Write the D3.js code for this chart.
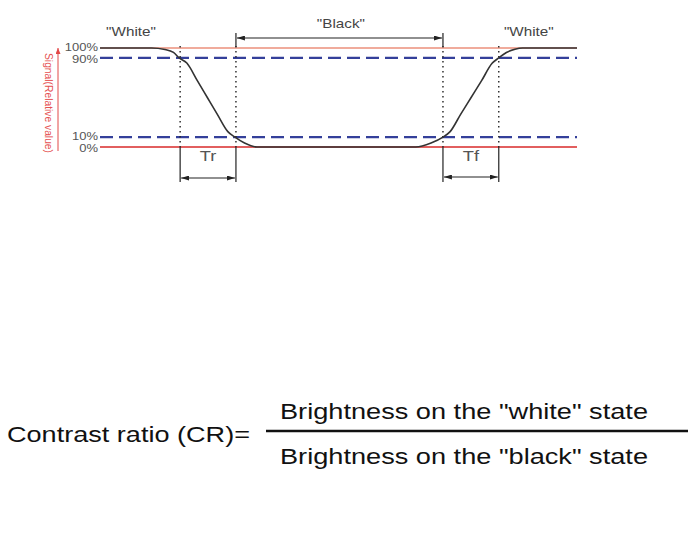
<!DOCTYPE html>
<html>
<head>
<meta charset="utf-8">
<script src="https://cdn.jsdelivr.net/npm/d3@7"></script>
<style>
  html, body { margin: 0; padding: 0; background: #fff; }
  svg { display: block; font-family: "Liberation Sans", Arial, sans-serif; }
</style>
</head>
<body>
<svg id="chart" width="700" height="535"></svg>
<script>
// ---- data ----
// signal response: time (arbitrary units 0..100) and relative value (%)
const signalTime  = [0, 10.8, 13.6, 15.4, 16.6, 18.2, 20.4, 22.5, 24.6, 26.8, 28.3, 30.3, 32.9,
                     66.2, 69.4, 71.9, 73.4, 75.6, 77.8, 80.0, 82.2, 83.6, 85.2, 87.0, 88.6, 100];
const signalValue = [100, 100, 98.5, 95.5, 90, 84.8, 67, 50, 33, 15.5, 10, 4, 0,
                     0, 4, 10, 15.5, 33, 50, 67, 84.5, 90, 95.5, 98.8, 100, 100];
// reference levels
const refLevels   = [100, 90, 10, 0];
const tickLabels  = ["100%", "90%", "10%", "0%"];
const tickNudge   = [-1, 1, -1, 1];
// transition markers (time units)
const markerNames = ["trStart", "trEnd", "tfStart", "tfEnd"];
const markerTimes = [16.8, 28.5, 71.9, 83.6];
const stateLabels = ["\"White\"", "\"Black\"", "\"White\""];
const stateTimes  = [6.5, 50.5, 89.9];
const spanLabels  = ["Tr", "Tf"];
const axisTitle   = "Signal(Relative value)";
const formulaLeft = "Contrast ratio (CR)=";
const formulaNum  = "Brightness on the \"white\" state";
const formulaDen  = "Brightness on the \"black\" state";

// ---- layout ----
const svg = d3.select("#chart");
const x = d3.scaleLinear().domain([0, 100]).range([100, 577]);
const y = d3.scaleLinear().domain([0, 100]).range([147, 48]);
const SX = 1.22; // horizontal stretch of the original picture's text

const defs = svg.append("defs");
function mk(id, color, w, h) {
  defs.append("marker").attr("id", id)
    .attr("viewBox", `0 0 ${w} ${h}`).attr("refX", w).attr("refY", h / 2)
    .attr("markerWidth", w).attr("markerHeight", h)
    .attr("markerUnits", "userSpaceOnUse")
    .attr("orient", "auto-start-reverse")
    .append("path").attr("d", `M0,0L${w},${h / 2}L0,${h}Z`).attr("fill", color);
}
mk("arr", "#222", 8, 5);
mk("arrRed", "#e24848", 6, 5);

svg.append("rect").attr("width", 700).attr("height", 535).attr("fill", "#fff");

// reference lines
const refColor = { 100: "#e2583a", 0: "#d82a2a" };
refLevels.forEach(v => {
  const line = svg.append("line")
    .attr("x1", x(0)).attr("x2", x(100))
    .attr("y1", y(v)).attr("y2", y(v));
  if (v === 100 || v === 0) {
    line.attr("stroke", refColor[v]).attr("stroke-width", v === 0 ? 1.6 : 1.2);
  } else {
    line.attr("stroke", "#34409a").attr("stroke-width", 2.2)
      .attr("stroke-dasharray", "13,6");
  }
});

// vertical marker lines
const mTop = { trStart: 46, trEnd: 33, tfStart: 33, tfEnd: 46 };
markerNames.forEach((n, i) => {
  const mx = x(markerTimes[i]);
  svg.append("line").attr("x1", mx).attr("x2", mx)
    .attr("y1", y(100) - 2).attr("y2", y(0))
    .attr("stroke", "#222").attr("stroke-width", 1.4)
    .attr("stroke-dasharray", "1.4,3.6");
  if (mTop[n] < y(100) - 2) {
    svg.append("line").attr("x1", mx).attr("x2", mx)
      .attr("y1", mTop[n]).attr("y2", y(100) - 1)
      .attr("stroke", "#222").attr("stroke-width", 1.2);
  }
  svg.append("line").attr("x1", mx).attr("x2", mx)
    .attr("y1", y(0)).attr("y2", 182)
    .attr("stroke", "#222").attr("stroke-width", 1.2);
});

// signal curve
const pts = signalTime.map((t, i) => [t, signalValue[i]]);
svg.append("path").datum(pts)
  .attr("d", d3.line().x(d => x(d[0])).y(d => y(d[1])).curve(d3.curveMonotoneX))
  .attr("fill", "none").attr("stroke", "#333").attr("stroke-width", 1.6);

// dimension arrows
function dimArrow(t1, t2, yy) {
  svg.append("line").attr("x1", x(t1) + 1).attr("x2", x(t2) - 1)
    .attr("y1", yy).attr("y2", yy)
    .attr("stroke", "#222").attr("stroke-width", 1.2)
    .attr("marker-start", "url(#arr)").attr("marker-end", "url(#arr)");
}
dimArrow(markerTimes[1], markerTimes[2], 38);
dimArrow(markerTimes[0], markerTimes[1], 178);
dimArrow(markerTimes[2], markerTimes[3], 177);

// stretched text helper
function stext(cx, cy, str, size, color, anchor) {
  const g = svg.append("g").attr("transform", `translate(${cx},${cy}) scale(${SX},1)`);
  g.append("text").attr("text-anchor", anchor || "middle")
    .attr("font-size", size).attr("fill", color).text(str);
  return g;
}
stateLabels.forEach((s, i) => {
  stext(x(stateTimes[i]), i === 1 ? 28 : 36, s, 12.5, "#444");
});
stext((x(markerTimes[0]) + x(markerTimes[1])) / 2, 161, spanLabels[0], 15, "#555");
stext((x(markerTimes[2]) + x(markerTimes[3])) / 2, 161, spanLabels[1], 15, "#555");

// y axis labels
const yAxis = d3.axisLeft(y).tickValues(refLevels).tickSize(0).tickPadding(2)
  .tickFormat((d, i) => tickLabels[i]);
const ax = svg.append("g").attr("transform", `translate(${x(0)},0)`).call(yAxis);
ax.select(".domain").remove();
ax.selectAll("text").attr("font-size", 10).attr("fill", "#555")
  .attr("font-family", "Liberation Sans, Arial, sans-serif")
  .attr("dy", "0.36em")
  .attr("y", (d, i) => tickNudge[i])
  .attr("transform", `scale(1.3,1)`)
  .attr("x", -2 / 1.3);

// axis title and arrow
svg.append("line").attr("x1", 58).attr("x2", 58).attr("y1", 151).attr("y2", 48)
  .attr("stroke", "#e24848").attr("stroke-width", 1).attr("marker-end", "url(#arrRed)");
svg.append("text").attr("transform", "translate(44.5,103) rotate(90)")
  .attr("text-anchor", "middle").attr("font-size", 10).attr("fill", "#e55050")
  .attr("textLength", 100).attr("lengthAdjust", "spacingAndGlyphs")
  .text(axisTitle);

// formula
svg.append("text").attr("x", 7).attr("y", 442).attr("font-size", 21.5).attr("fill", "#111")
  .attr("textLength", 243).attr("lengthAdjust", "spacingAndGlyphs").text(formulaLeft);
svg.append("text").attr("x", 280).attr("y", 419).attr("font-size", 21.5).attr("fill", "#111")
  .attr("textLength", 368).attr("lengthAdjust", "spacingAndGlyphs").text(formulaNum);
svg.append("text").attr("x", 280).attr("y", 464).attr("font-size", 21.5).attr("fill", "#111")
  .attr("textLength", 368).attr("lengthAdjust", "spacingAndGlyphs").text(formulaDen);
svg.append("line").attr("x1", 266).attr("x2", 688).attr("y1", 431).attr("y2", 431)
  .attr("stroke", "#111").attr("stroke-width", 2.6);
</script>
</body>
</html>
